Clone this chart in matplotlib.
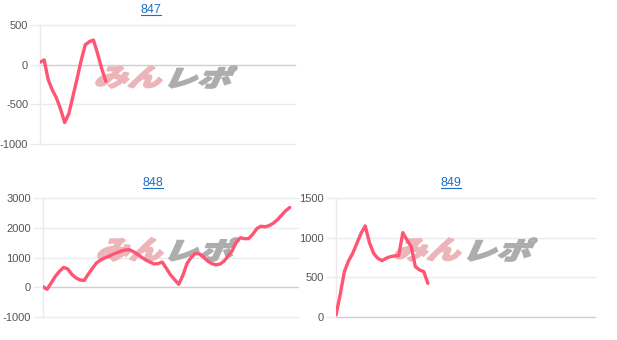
import numpy as np
import matplotlib
matplotlib.use("Agg")
from matplotlib import pyplot as plt
from matplotlib.textpath import TextPath
from matplotlib.font_manager import FontProperties
from matplotlib.patches import PathPatch
from matplotlib.transforms import Affine2D
from matplotlib.lines import Line2D

# balance per game, one list per machine
titles = ["847", "848", "849"]
vals847 = [30, 60, -190, -320, -420, -560, -730, -620, -400, -180, 50, 250, 290, 310, 140, -50, -210]
vals848 = [20, -67, 150, 370, 540, 670, 620, 440, 320, 250, 230, 440, 640, 820, 920, 990, 1040,
           1110, 1170, 1220, 1260, 1270, 1200, 1110, 1010, 920, 850, 790, 800, 850, 640, 420, 260,
           100, 400, 800, 1000, 1140, 1130, 1020, 890, 800, 760, 780, 880, 1050, 1230, 1530, 1670,
           1640, 1640, 1790, 1980, 2060, 2040, 2080, 2160, 2280, 2430, 2580, 2690]
vals849 = [21, 280, 571, 707, 803, 930, 1057, 1150, 939, 803, 740, 710, 740, 761, 770, 774, 1065,
           972, 888, 634, 592, 571, 423]
yticks847 = [-1000, -500, 0, 500]
yticks848 = [-1000, 0, 1000, 2000, 3000]
yticks849 = [0, 500, 1000, 1500]

W, H = 617, 340
LINE = "#ff5473"
GRID = "#ebebeb"
ZERO = "#cfcfcf"
LINK = "#1a6fc8"

fig = plt.figure(figsize=(W / 100, H / 100), dpi=100)
fig.patch.set_facecolor("white")

# axes boxes in pixels: left, top, right, bottom
boxes = [(40, 25, 295, 144), (43, 198.3, 298, 317), (336, 198.3, 595, 316.7)]
title_pos = [(151, 10), (153, 183), (451, 183)]
# watermark boxes: pink x0, x1, gray x0, x1, y0, y1
marks = [(95, 163, 168, 238, 65, 89), (97, 164, 168, 240, 237, 262), (394, 462, 467, 538, 237, 262)]

jp = FontProperties(family="Noto Sans CJK JP", weight="black")


def fit_path(text, x0, x1, y0, y1):
    p = TextPath((0, 0), text, size=40, prop=jp)
    p = p.transformed(Affine2D().skew_deg(18, 0))
    ext = p.get_extents()
    sx = (x1 - x0 - 2) / ext.width
    sy = (y1 - y0 - 2) / ext.height
    t = Affine2D().translate(-ext.x0, -ext.y0).scale(sx, sy).translate(x0 + 1, H - y1 + 1).scale(1 / 100)
    return p.transformed(t)


def draw(ax, vals, yticks, ylim, k):
    x = np.arange(len(vals))
    ax.plot(x, vals, color=LINE, lw=2.4, solid_joinstyle="round", solid_capstyle="round", zorder=3)
    ax.set_xlim(0, 62)
    ax.set_ylim(*ylim)
    ax.set_yticks(yticks)
    ax.set_yticklabels([str(t) for t in yticks])
    ax.set_xticks([])
    for t in yticks:
        c = ZERO if t == 0 else GRID
        ax.axhline(t, color=c, lw=1, zorder=1, clip_on=False)
    for s in ["top", "right", "bottom"]:
        ax.spines[s].set_visible(False)
    ax.spines["left"].set_color(GRID)
    ax.spines["left"].set_linewidth(1)
    ax.tick_params(axis="y", length=7, width=1, color=GRID, pad=1.5, labelsize=8, labelcolor="#555555")
    for lab in ax.get_yticklabels():
        lab.set_fontfamily("Liberation Sans")
    px0, px1, gx0, gx1, wy0, wy1 = marks[k]
    pink = PathPatch(fit_path("みん", px0, px1, wy0, wy1), facecolor="#ebb5b9", edgecolor="#ebb5b9",
                     lw=1.2, transform=fig.dpi_scale_trans, clip_on=False, zorder=2)
    gray = PathPatch(fit_path("レポ", gx0, gx1, wy0, wy1), facecolor="#adadad", edgecolor="#adadad",
                     lw=1.2, transform=fig.dpi_scale_trans, clip_on=False, zorder=2)
    ax.add_patch(pink)
    ax.add_patch(gray)


series = [vals847, vals848, vals849]
ticks = [yticks847, yticks848, yticks849]
lims = [(-1000, 500), (-1000, 3000), (0, 1500)]
for k in range(3):
    l, t, r, b = boxes[k]
    ax = fig.add_axes([l / W, 1 - b / H, (r - l) / W, (b - t) / H])
    ax.patch.set_alpha(0)
    draw(ax, series[k], ticks[k], lims[k], k)

# linked titles with underline
fig.canvas.draw()
rend = fig.canvas.get_renderer()
for k in range(3):
    tx, ty = title_pos[k]
    txt = fig.text(tx / W, 1 - ty / H, titles[k], ha="center", va="center", color=LINK,
                   fontsize=9, family="Liberation Sans")
    bb = txt.get_window_extent(renderer=rend)
    uy = (bb.y0 + 1) / H
    fig.add_artist(Line2D([bb.x0 / W, bb.x1 / W], [uy, uy], color=LINK, lw=0.8,
                          transform=fig.transFigure))

fig.savefig("out.png", dpi=100)
